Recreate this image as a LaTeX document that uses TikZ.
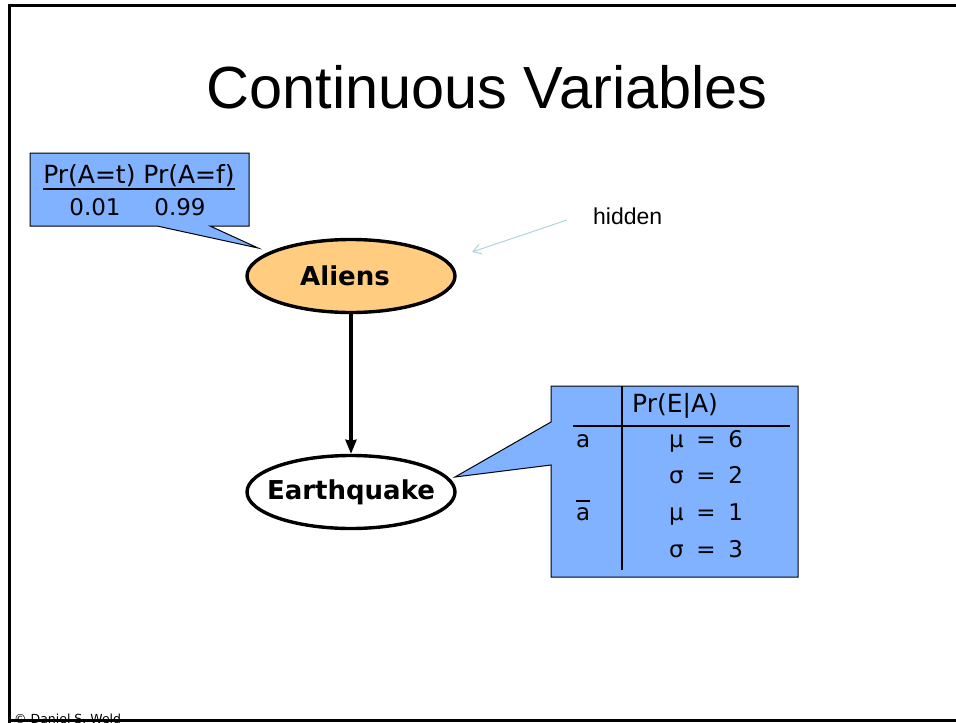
\documentclass[tikz,border=0pt]{standalone}
\usepackage{fontspec}
\setmainfont{DejaVu Sans}
\newfontfamily\titlefont{Liberation Sans}
\usetikzlibrary{arrows.meta,shapes.geometric}

\definecolor{calloutblue}{RGB}{128,178,255}
\definecolor{nodeorange}{RGB}{255,204,128}
\definecolor{hintblue}{RGB}{170,214,224}

\tikzset{
  frameline/.style={line width=3pt, draw=black},
  callout/.style={fill=calloutblue, draw=black, line width=1pt, line join=miter},
  rvnode/.style={ellipse, draw=black, line width=3.4pt, minimum width=208pt,
                 minimum height=73pt, inner sep=0pt,
                 font=\fontsize{26}{30}\selectfont\bfseries},
  cpttext/.style={font=\fontsize{23}{26}\selectfont, inner sep=0pt},
  cpthead/.style={font=\fontsize{25}{28}\selectfont, inner sep=0pt},
  rule/.style={line width=2.6pt, draw=black},
  link/.style={line width=3.2pt, -{Stealth[length=14pt,width=11pt,inset=1pt]}}
}

% spaced equation inside the conditional table
\newcommand{\cptentry}[2]{#1\hspace{0.55em}=\hspace{0.55em}#2}

\begin{document}
\begin{tikzpicture}[x=1pt,y=-1pt]
\useasboundingbox (0,0) rectangle (956,723);
\fill[white] (0,0) rectangle (956,723);

% title
\node[font=\titlefont\fontsize{59.5}{70}\selectfont, anchor=base, inner sep=0pt]
  (title) at (487,108) {Continuous Variables};

% random variables (text boxed narrow so the ellipse keeps its set size)
\node[rvnode, fill=nodeorange] (aliens) at (351,276) {\makebox[90pt]{Aliens\hspace{12pt}}};
\node[rvnode, fill=white] (quake) at (351,492) {\makebox[90pt]{Earthquake}};
\draw[link] (aliens) -- (quake);

% prior table for Aliens
\draw[callout] (30,153) -- (249,153) -- (249,226) -- (210,226) -- (258,248)
  -- (157,226) -- (30,226) -- cycle;
\node[cpthead, anchor=base] (priorhead) at (139,183) {Pr(A=t) Pr(A=f)};
\draw[rule] (43,189) -- (235,189);
\node[cpttext, anchor=base] (pt) at (95,215) {0.01};
\node[cpttext, anchor=base] (pf) at (180,215) {0.99};

% conditional table for Earthquake
\draw[callout] (551,386) -- (798,386) -- (798,577) -- (551,577) -- (551,465)
  -- (455,477) -- (551,422) -- cycle;
\draw[rule] (622,386) -- (622,570);
\draw[rule] (573,426) -- (790,426);
\node[cpthead, anchor=base west] (condhead) at (632,412) {Pr(E|A)};
\node[cpttext, anchor=base west] (rowa) at (576,447) {a};
\node[cpttext, anchor=base west] (rownota) at (576,520)
  {\rlap{\raisebox{18pt}{\rule{14pt}{1.6pt}}}a};
\node[cpttext, anchor=base] (mu1) at (706,447) {\cptentry{μ}{6}};
\node[cpttext, anchor=base] (sd1) at (706,483) {\cptentry{σ}{2}};
\node[cpttext, anchor=base] (mu2) at (706,520) {\cptentry{μ}{1}};
\node[cpttext, anchor=base] (sd2) at (706,557) {\cptentry{σ}{3}};

% hidden annotation
\node[font=\titlefont\fontsize{23}{26}\selectfont, anchor=base west, inner sep=0pt]
  (hidden) at (593,224) {hidden};
\coordinate (hidfrom) at (567,220);
\coordinate (hidto) at (472,252);
\draw[hintblue, line width=1pt, -{Straight Barb[length=8pt,width=10pt]}] (hidfrom) -- (hidto);

% footer
\node[font=\fontsize{12.5}{14}\selectfont, anchor=base west, inner sep=0pt]
  (credit) at (14,723) {© Daniel S. Weld};

% slide frame
\draw[frameline] (9.5,723) -- (9.5,5) -- (970,5);
\draw[frameline] (8,720) -- (970,720);
\end{tikzpicture}
\end{document}
